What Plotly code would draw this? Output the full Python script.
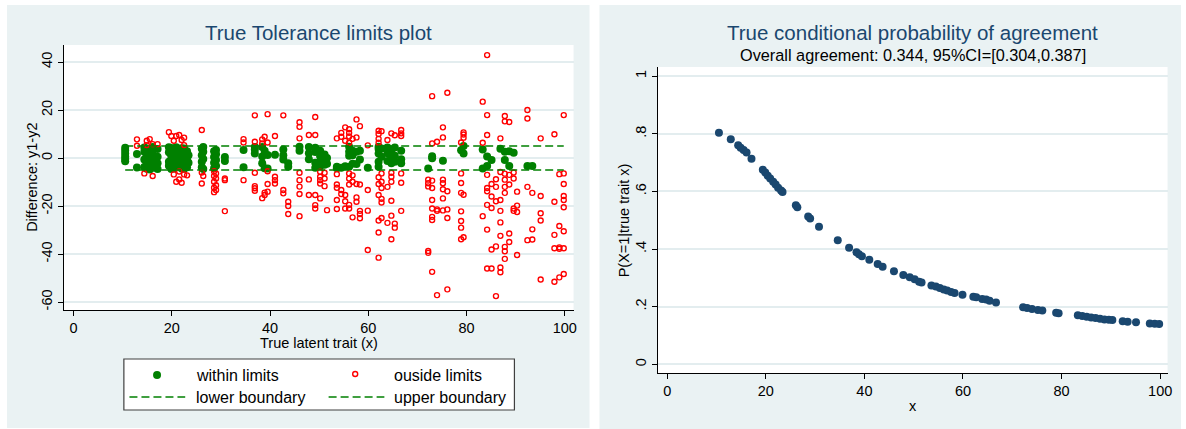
import plotly.graph_objects as go

# ---------------- data ----------------
# left panel: (true latent trait x, difference y1-y2)
green_pts = [
    (10.5, 4.3), (10.5, 3.1), (10.5, 1.9), (10.5, 0.7), (10.5, -0.4), (10.5, -1.3),
    (12.9, 1.7), (12.9, -3.9),
    (14.4, 2.6), (14.4, -0.6), (14.4, -3.7), (14.4, 4.4),
    (14.9, 4.0), (14.9, 1.1), (14.9, -2.1), (14.9, -4.5),
    (15.5, 3.2), (15.5, 0.2), (15.5, -2.9), (15.5, -4.8),
    (16.1, 4.6), (16.1, 1.8), (16.1, -1.0), (16.1, -4.0),
    (17.1, 3.8), (17.1, 0.5), (17.1, -2.2), (17.1, -4.6),
    (19.4, 2.4), (19.4, -1.5), (19.4, -3.2), (19.4, 4.5),
    (19.9, 4.2), (19.9, 0.8), (19.9, -2.5), (19.9, -4.6),
    (20.4, 3.0), (20.4, -0.4), (20.4, -4.2), (20.4, 1.6),
    (20.9, 4.5), (20.9, 1.5), (20.9, -1.8), (20.9, -3.6),
    (21.5, 3.5), (21.5, 0.0), (21.5, -3.4), (21.5, 2.0),
    (22.0, 2.2), (22.0, -1.0), (22.0, -4.4), (22.0, 4.1),
    (22.5, 4.0), (22.5, 0.6), (22.5, -2.6), (22.5, -4.5),
    (23.1, 2.8), (23.1, -0.8), (23.1, -3.8), (23.1, 1.0),
    (23.4, 1.2), (23.4, -2.0),
    (26.1, 3.9), (26.1, 1.2), (26.1, -1.5), (26.1, -3.8),
    (26.4, 2.6), (26.4, -0.4), (26.4, -4.6), (26.4, 4.6),
    (28.6, 2.8), (28.6, 0.4), (28.6, -2.0), (28.6, -4.2),
    (29.0, 1.6), (29.0, -0.8), (29.0, -3.2), (29.0, 3.4),
    (30.8, 0.4), (30.8, -1.2),
    (34.6, 3.4), (34.6, -3.8),
    (36.9, 4.6), (36.9, 3.6), (36.9, 1.9),
    (38.4, 4.6), (38.4, 0.6), (38.4, -2.2),
    (38.9, 3.0), (38.9, -4.2),
    (39.5, 1.3), (39.5, -4.4),
    (41.0, 1.4),
    (42.7, 3.6), (42.7, 1.2), (42.7, -0.6),
    (43.7, -2.2), (43.7, -3.6),
    (46.0, 4.7), (46.0, 3.0),
    (47.9, 4.6), (47.9, 2.0), (47.9, -0.5),
    (49.2, 4.3), (49.2, 2.5), (49.2, -2.0), (49.2, -4.0),
    (50.2, 3.0), (50.2, 0.8), (50.2, -1.6), (50.2, -3.4),
    (51.1, 1.5), (51.1, -0.9), (51.1, -2.8),
    (51.6, 0.0), (51.6, -2.4),
    (53.6, -3.6), (53.6, -4.2),
    (54.5, -4.0),
    (55.3, -3.4),
    (56.1, 4.7), (56.1, 2.6), (56.1, 1.0), (56.1, -3.6),
    (56.8, 3.0), (56.8, 1.2), (56.8, -2.4),
    (57.6, 2.6), (57.6, -2.5),
    (58.3, 3.0), (58.3, -0.6),
    (59.9, -4.0),
    (62.1, 4.7), (62.1, 3.8), (62.1, 1.9), (62.1, -1.5), (62.1, -3.6),
    (62.7, 4.0), (62.7, 0.5),
    (63.9, 4.4), (63.9, 2.0), (63.9, -1.2),
    (64.7, 3.0), (64.7, 1.6), (64.7, 0.2), (64.7, -2.2),
    (65.4, 4.4), (65.4, 1.0), (65.4, -1.5),
    (66.7, 3.0), (66.7, -0.5), (66.7, -2.2),
    (72.2, -4.3),
    (73.0, 0.8), (73.0, -0.1),
    (75.2, -1.1),
    (78.9, 3.3),
    (79.4, 5.0), (79.4, 1.9),
    (83.3, 3.6), (83.3, -4.3),
    (84.2, 0.6), (84.2, -3.3),
    (85.1, -0.8),
    (86.9, 3.9),
    (87.8, 2.6), (87.8, -0.8),
    (88.7, 2.8), (88.7, -3.3),
    (89.6, 2.2),
    (92.4, -3.3),
    (93.4, -3.3),
]

red_pts = [
    (12.9, 7.8), (12.9, 5.1),
    (14.4, -6.4),
    (14.9, 7.2), (14.9, 5.4),
    (15.5, 7.9),
    (16.1, 5.8), (16.1, -7.5),
    (17.1, 5.8),
    (19.4, 10.8),
    (19.9, 9.2),
    (20.4, 7.2), (20.4, -6.8),
    (20.9, 9.2), (20.9, -9.9),
    (21.5, 9.6), (21.5, -8.9), (21.5, -5.6),
    (22.0, 7.5), (22.0, -10.3),
    (22.5, 8.5), (22.5, 5.4), (22.5, -6.8),
    (23.1, -7.2),
    (26.1, 11.7), (26.1, -6.0), (26.1, -10.6),
    (26.4, -7.5),
    (28.6, -5.5), (28.6, -7.5), (28.6, -9.9), (28.6, -12.4), (28.6, -14.2),
    (29.0, -6.4), (29.0, -8.5), (29.0, -11.3), (29.0, -13.3),
    (30.8, -8.5), (30.8, -9.2), (30.8, -22.1),
    (34.6, 7.9), (34.6, 6.5), (34.6, -9.2),
    (36.9, 17.8), (36.9, 6.8), (36.9, -6.1), (36.9, -11.7), (36.9, -12.6), (36.9, -13.6),
    (38.4, 7.8), (38.4, 6.1), (38.4, -16.7),
    (38.9, 8.9), (38.9, -15.4), (38.9, -14.4),
    (39.5, 18.3), (39.5, 6.5), (39.5, -5.5), (39.5, -10.8), (39.5, -14.0),
    (41.0, 9.2), (41.0, -7.8), (41.0, -9.2), (41.0, -10.6),
    (42.7, 17.8), (42.7, -13.3), (42.7, -14.7),
    (43.7, -18.2), (43.7, -20.0), (43.7, -23.3),
    (46.0, 14.9), (46.0, 13.0), (46.0, 8.2), (46.0, -6.1), (46.0, -9.2), (46.0, -11.9), (46.0, -15.0), (46.0, -24.2),
    (47.9, 9.6), (47.9, -8.9), (47.9, -15.4),
    (49.2, 17.1), (49.2, 9.6), (49.2, -15.4), (49.2, -19.6), (49.2, -21.0),
    (50.2, -5.7), (50.2, -7.8), (50.2, -9.2), (50.2, -10.6), (50.2, -16.8),
    (51.1, -6.1), (51.1, -8.5), (51.1, -11.7),
    (51.6, -21.7),
    (53.6, 8.2), (53.6, -6.7), (53.6, -11.0), (53.6, -12.4), (53.6, -17.5), (53.6, -21.2),
    (54.5, 10.5), (54.5, 8.9), (54.5, -13.3), (54.5, -15.0),
    (55.3, 12.8), (55.3, 7.2), (55.3, -15.4), (55.3, -18.0), (55.3, -21.0),
    (56.1, 12.0), (56.1, 10.5), (56.1, 9.0), (56.1, 6.4), (56.1, -6.4), (56.1, -8.5), (56.1, -11.0), (56.1, -19.5), (56.1, -21.0),
    (56.8, 8.0), (56.8, -7.2), (56.8, -9.9), (56.8, -24.7),
    (57.6, 16.1), (57.6, 8.6), (57.6, -10.8), (57.6, -16.4), (57.6, -18.2),
    (58.3, 13.3), (58.3, -11.0), (58.3, -22.0), (58.3, -23.3), (58.3, -25.1),
    (59.9, 5.3), (59.9, -13.3), (59.9, -21.9), (59.9, -38.3),
    (62.1, 11.4), (62.1, 10.0), (62.1, 8.0), (62.1, 6.4), (62.1, -8.0), (62.1, -10.8), (62.1, -15.4), (62.1, -26.0), (62.1, -31.0), (62.1, -41.5),
    (62.7, 11.2), (62.7, -6.4), (62.7, -9.9), (62.7, -12.5), (62.7, -17.0), (62.7, -18.5), (62.7, -25.0),
    (63.9, 7.5), (63.9, -12.0), (63.9, -27.0),
    (64.7, 10.3), (64.7, -6.1), (64.7, -7.8), (64.7, -9.9), (64.7, -17.8), (64.7, -24.0), (64.7, -33.8),
    (65.4, 9.5), (65.4, -27.3), (65.4, -29.0),
    (66.7, 11.7), (66.7, 10.3), (66.7, 9.2), (66.7, -6.4), (66.7, -10.3), (66.7, -22.0),
    (72.2, -9.0), (72.2, -10.5), (72.2, -11.8), (72.2, -38.7), (72.2, -39.5),
    (73.0, 25.8), (73.0, 6.1), (73.0, -9.4), (73.0, -12.5), (73.0, -17.5), (73.0, -21.0), (73.0, -24.5), (73.0, -25.8), (73.0, -47.4),
    (74.0, 6.8), (74.0, -21.4), (74.0, -22.0), (74.0, -57.1),
    (75.2, 12.8), (75.2, 8.6), (75.2, -9.0), (75.2, -10.5), (75.2, -13.0), (75.2, -16.8), (75.2, -21.8),
    (76.1, 27.2), (76.1, -13.8), (76.1, -21.4), (76.1, -25.0), (76.1, -54.7),
    (78.9, 6.5), (78.9, -6.4), (78.9, -10.4), (78.9, -14.5), (78.9, -22.2), (78.9, -26.2), (78.9, -29.0), (78.9, -33.8),
    (79.4, 10.7), (79.4, 9.8), (79.4, 8.5), (79.4, -15.3), (79.4, -33.0),
    (83.3, 23.5), (83.3, 6.4), (83.3, -24.2),
    (84.2, 42.9), (84.2, 17.9), (84.2, 9.6), (84.2, -7.0), (84.2, -12.5), (84.2, -13.8), (84.2, -19.5), (84.2, -29.8), (84.2, -46.0),
    (85.1, -10.8), (85.1, -16.0), (85.1, -20.8), (85.1, -38.1), (85.1, -46.0),
    (86.0, -8.8), (86.0, -12.0), (86.0, -18.0), (86.0, -36.8), (86.0, -57.5),
    (86.9, 8.2), (86.9, -5.8), (86.9, -17.5), (86.9, -22.0), (86.9, -26.8), (86.9, -32.4), (86.9, -45.6), (86.9, -47.6),
    (87.8, 17.5), (87.8, 15.3), (87.8, -6.5), (87.8, -9.0), (87.8, -12.0), (87.8, -14.5), (87.8, -37.0), (87.8, -38.8), (87.8, -42.0),
    (88.7, 15.0), (88.7, -7.0), (88.7, -11.0), (88.7, -31.4), (88.7, -35.0),
    (89.6, -6.0), (89.6, -8.5), (89.6, -21.0), (89.6, -22.0),
    (90.3, -14.0), (90.3, -19.8), (90.3, -22.5), (90.3, -40.4),
    (92.4, 20.0), (92.4, 16.5), (92.4, -12.0), (92.4, -34.2),
    (93.4, -14.5), (93.4, -29.7), (93.4, -33.9),
    (95.1, 8.2), (95.1, -15.8), (95.1, -23.0), (95.1, -26.0), (95.1, -50.6),
    (97.9, 9.9), (97.9, -18.2), (97.9, -32.0), (97.9, -37.6), (97.9, -51.5),
    (98.9, -6.7), (98.9, -28.3), (98.9, -37.2), (98.9, -37.8), (98.9, -49.7),
    (99.8, 17.9), (99.8, -6.4), (99.8, -10.8), (99.8, -15.8), (99.8, -17.5), (99.8, -20.5), (99.8, -30.5), (99.8, -37.6), (99.8, -48.3),
]

lower_limit = -5
upper_limit = 5

# right panel: P(X=1 | true trait x)
prob_x = [10.5, 12.9, 14.4, 14.9, 15.5, 16.1, 17.1, 19.4, 19.9, 20.4, 20.9, 21.5, 22.0, 22.5,
          23.1, 23.4, 26.1, 26.4, 28.6, 29.0, 30.8, 34.6, 36.9, 38.4, 38.9, 39.5, 41.0, 42.7,
          43.7, 46.0, 47.9, 49.2, 50.2, 51.1, 51.6, 53.6, 54.5, 55.3, 56.1, 56.8, 57.6, 58.3,
          59.9, 62.1, 62.7, 63.9, 64.7, 65.4, 66.7, 72.2, 73.0, 74.0, 75.2, 76.1, 78.9, 79.4,
          83.3, 84.2, 85.1, 86.0, 86.9, 87.8, 88.7, 89.6, 90.3, 92.4, 93.4, 95.1, 97.9, 98.9, 99.8]
prob_y = [0.804, 0.781, 0.760, 0.752, 0.744, 0.735, 0.714, 0.675, 0.666, 0.655, 0.645, 0.634, 0.624, 0.613,
          0.603, 0.598, 0.552, 0.545, 0.513, 0.506, 0.478, 0.431, 0.405, 0.389, 0.382, 0.375, 0.363, 0.348,
          0.339, 0.323, 0.310, 0.302, 0.295, 0.287, 0.284, 0.274, 0.270, 0.265, 0.260, 0.256, 0.251, 0.248,
          0.242, 0.235, 0.233, 0.227, 0.225, 0.221, 0.215, 0.198, 0.196, 0.192, 0.189, 0.187, 0.179, 0.177,
          0.170, 0.168, 0.165, 0.163, 0.161, 0.158, 0.156, 0.155, 0.154, 0.150, 0.148, 0.146, 0.142, 0.141, 0.140]

x_ticks = [0, 20, 40, 60, 80, 100]
x_ticktext = ["0", "20", "40", "60", "80", "100"]
left_y_ticks = [-60, -40, -20, 0, 20, 40]
left_y_ticktext = ["-60", "-40", "-20", "0", "20", "40"]
right_y_ticks = [0, 0.2, 0.4, 0.6, 0.8, 1]
right_y_ticktext = ["0", ".2", ".4", ".6", ".8", "1"]

# ---------------- layout helpers ----------------
W, H = 1186, 429
FONT = "Liberation Sans, Arial, sans-serif"
NAVY = "#1a476f"
GREEN = "#008000"
RED = "#ff0000"
PANEL = "#eaf2f3"
GRID = "#e3edef"


def px(x):
    return x / W


def py(y):
    return 1 - y / H


green_x = [p[0] for p in green_pts]
green_y = [p[1] for p in green_pts]
red_x = [p[0] for p in red_pts]
red_y = [p[1] for p in red_pts]
all_x = green_x + red_x
line_x = [min(all_x), max(all_x)]

fig = go.Figure()

fig.add_trace(go.Scatter(x=green_x, y=green_y, mode="markers", name="within limits",
                         marker=dict(color=GREEN, size=8, line=dict(width=0)),
                         xaxis="x", yaxis="y", showlegend=False))
fig.add_trace(go.Scatter(x=red_x, y=red_y, mode="markers", name="ouside limits",
                         marker=dict(symbol="circle-open", color=RED, size=5, line=dict(width=1.4)),
                         xaxis="x", yaxis="y", showlegend=False))
fig.add_trace(go.Scatter(x=line_x, y=[lower_limit, lower_limit], mode="lines", name="lower boundary",
                         line=dict(color=GREEN, width=1.6, dash="8px,4px"),
                         xaxis="x", yaxis="y", showlegend=False))
fig.add_trace(go.Scatter(x=line_x, y=[upper_limit, upper_limit], mode="lines", name="upper boundary",
                         line=dict(color=GREEN, width=1.6, dash="8px,4px"),
                         xaxis="x", yaxis="y", showlegend=False))
fig.add_trace(go.Scatter(x=prob_x, y=prob_y, mode="markers", name="P",
                         marker=dict(color=NAVY, size=8, line=dict(width=0)),
                         xaxis="x2", yaxis="y2", showlegend=False))

axis_common = dict(
    showline=True, linecolor="#000000", linewidth=1,
    ticks="outside", ticklen=5, tickwidth=1, tickcolor="#000000",
    tickfont=dict(family=FONT, size=14.5, color="#000000"),
    zeroline=False,
)

fig.update_layout(
    width=W, height=H,
    margin=dict(l=0, r=0, t=0, b=0),
    paper_bgcolor="#ffffff",
    plot_bgcolor="rgba(0,0,0,0)",
    showlegend=False,
    xaxis=dict(domain=[px(64.3), px(576)], range=[-1.95, 101.8], tickvals=x_ticks,
               ticktext=x_ticktext, anchor="y", showgrid=False, **axis_common),
    yaxis=dict(domain=[py(310), py(45)], range=[-63.3, 47.1], tickvals=left_y_ticks,
               ticktext=left_y_ticktext, anchor="x", tickangle=-90, showgrid=True,
               gridcolor=GRID, gridwidth=1.5, **axis_common),
    xaxis2=dict(domain=[px(660.6), px(1172.5)], range=[-1.9, 101.5], tickvals=x_ticks,
                ticktext=x_ticktext, anchor="y2", showgrid=False, **axis_common),
    yaxis2=dict(domain=[py(373), py(67)], range=[-0.030, 1.032], tickvals=right_y_ticks,
                ticktext=right_y_ticktext, anchor="x2", tickangle=-90, showgrid=True,
                gridcolor=GRID, gridwidth=1.5, **axis_common),
)

shapes = [
    # panel backgrounds
    dict(type="rect", xref="paper", yref="paper", x0=px(7), x1=px(592), y0=py(428), y1=py(5),
         fillcolor=PANEL, line=dict(width=0), layer="below"),
    dict(type="rect", xref="paper", yref="paper", x0=px(602), x1=px(1186), y0=py(429), y1=py(5),
         fillcolor=PANEL, line=dict(width=0), layer="below"),
    # plot areas
    dict(type="rect", xref="paper", yref="paper", x0=px(64.3), x1=px(576), y0=py(310), y1=py(45),
         fillcolor="#ffffff", line=dict(width=0), layer="below"),
    dict(type="rect", xref="paper", yref="paper", x0=px(660.6), x1=px(1172.5), y0=py(373), y1=py(67),
         fillcolor="#ffffff", line=dict(width=0), layer="below"),
    # legend box
    dict(type="rect", xref="paper", yref="paper", x0=px(124.4), x1=px(516.6), y0=py(410), y1=py(359),
         fillcolor="#ffffff", line=dict(color="#404040", width=1.2), layer="above"),
    # legend symbols
    dict(type="circle", xref="paper", yref="paper", xsizemode="pixel", ysizemode="pixel",
         xanchor=px(157.7), yanchor=py(375), x0=-4, x1=4, y0=-4, y1=4,
         fillcolor=GREEN, line=dict(width=0), layer="above"),
    dict(type="circle", xref="paper", yref="paper", xsizemode="pixel", ysizemode="pixel",
         xanchor=px(356.7), yanchor=py(374), x0=-2.5, x1=2.5, y0=-2.5, y1=2.5,
         fillcolor="#ffffff", line=dict(color=RED, width=1.4), layer="above"),
    dict(type="line", xref="paper", yref="paper", x0=px(130), x1=px(186), y0=py(397), y1=py(397),
         line=dict(color=GREEN, width=1.6, dash="8px,4px"), layer="above"),
    dict(type="line", xref="paper", yref="paper", x0=px(330), x1=px(386), y0=py(397), y1=py(397),
         line=dict(color=GREEN, width=1.6, dash="8px,4px"), layer="above"),
]
fig.update_layout(shapes=shapes)


def ann(text, x, y, size, color="#000000", angle=0, xanchor="center"):
    return dict(text=text, x=px(x), y=py(y), xref="paper", yref="paper", showarrow=False,
                xanchor=xanchor, yanchor="middle", textangle=angle,
                font=dict(family=FONT, size=size, color=color))


annotations = [
    ann("True Tolerance limits plot", 320, 32, 20.5, NAVY),
    ann("True conditional probability of agreement", 916.5, 32, 20.5, NAVY),
    ann("Overall agreement: 0.344, 95%CI=[0.304,0.387]", 916.5, 55, 16.3),
    ann("True latent trait (x)", 320, 343, 14.5),
    ann("x", 916.5, 406, 14.5),
    ann("Difference: y1-y2", 32.5, 177.5, 14.5, angle=-90),
    ann("P(X=1|true trait x)", 627, 220, 14.5, angle=-90),
    ann("within limits", 194.5, 375, 16, xanchor="left"),
    ann("ouside limits", 393.5, 375, 16, xanchor="left"),
    ann("lower boundary", 194.5, 397, 16, xanchor="left"),
    ann("upper boundary", 393.5, 397, 16, xanchor="left"),
]
fig.update_layout(annotations=annotations)

fig.write_html("out.html")
